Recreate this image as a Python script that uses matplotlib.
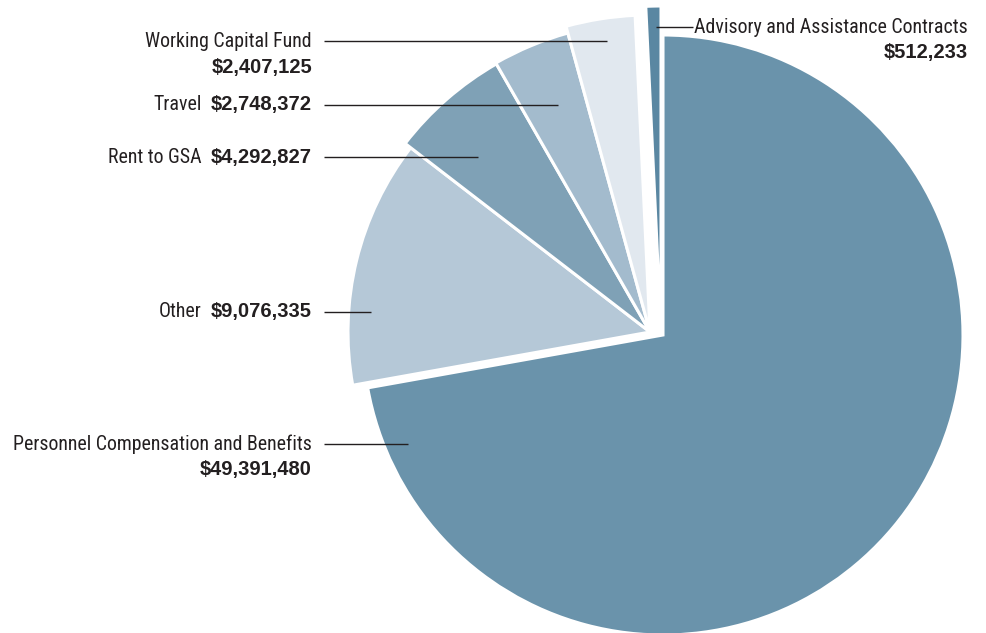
import matplotlib
matplotlib.use("Agg")
import matplotlib.pyplot as plt
from matplotlib import font_manager

categories = ["Personnel Compensation and Benefits", "Other", "Rent to GSA",
              "Travel", "Working Capital Fund", "Advisory and Assistance Contracts"]
amounts = [49391480, 9076335, 4292827, 2748372, 2407125, 512233]
colors = ["#6a93ab", "#b5c8d7", "#7fa1b6", "#a3bbcd", "#e1e8ef", "#5a87a2"]

W, H = 987, 633
INK = "#231f20"
BOLD = ["Liberation Sans", "DejaVu Sans"]

# pick a condensed face for the category names if one is around
installed = {(f.name, f.stretch) for f in font_manager.fontManager.ttflist}
names = {n for n, _ in installed}
if "Liberation Sans Narrow" in names:
    NARROW = dict(family=["Liberation Sans Narrow", "DejaVu Sans"])
elif "Roboto Condensed" in names:
    NARROW = dict(family=["Roboto Condensed", "DejaVu Sans"])
elif any(n == "DejaVu Sans" and s in ("condensed", 300, "semi-condensed")
         for n, s in installed):
    NARROW = dict(family=["DejaVu Sans"], stretch="condensed")
else:
    NARROW = dict(family=["Liberation Sans", "DejaVu Sans"])

fig = plt.figure(figsize=(W / 100, H / 100), dpi=100)
ax = fig.add_axes([0, 0, 1, 1])

# pie in pixel units (y measured up from the bottom)
cx, cy, r = 663, H - 335, 300
wedges, _ = ax.pie(amounts, colors=colors, startangle=90, counterclock=False,
                   radius=r, center=(cx, cy),
                   wedgeprops=dict(edgecolor="white", linewidth=2.2))

# the small categories are pulled out as a group, fanning slightly larger
pull = {1: ((-13, 3), 302), 2: ((-13, 3), 309), 3: ((-13, 3), 310),
        4: ((-13, 3), 317), 5: ((-2, 5), 324)}
for i, ((dx, dy), rr) in pull.items():
    wedges[i].set_center((cx + dx, cy + dy))
    wedges[i].set_radius(rr)

ax.set_xlim(0, W)
ax.set_ylim(0, H)
ax.set_aspect("equal")
ax.axis("off")

fig.canvas.draw()
renderer = fig.canvas.get_renderer()

# size the names so the longest one spans ~300 px
probe = ax.text(0, 0, categories[0], fontsize=15, **NARROW)
name_size = 15 * 300 / probe.get_window_extent(renderer).width
probe.remove()
name_size = min(name_size, 15.5)


def yy(y):
    return H - y


def fmt(v):
    return f"${v:,.0f}"


def value_text(x, y, v, ha="right"):
    return ax.text(x, yy(y), fmt(v), ha=ha, va="center", fontsize=14.5,
                   fontweight="bold", family=BOLD, color=INK)


def name_text(x, y, s, ha="right"):
    return ax.text(x, yy(y), s, ha=ha, va="center", fontsize=name_size,
                   color=INK, **NARROW)


def label_inline(name, value, y, x_right=312, gap=9):
    t = value_text(x_right, y, value)
    w = t.get_window_extent(renderer).width
    name_text(x_right - w - gap, y, name)


def leader(x0, x1, y):
    ax.plot([x0, x1], [yy(y), yy(y)], color=INK, lw=1.0, solid_capstyle="butt")


name_text(312, 41, categories[4])
value_text(312, 67, amounts[4])
leader(324, 607, 41)

label_inline(categories[3], amounts[3], 104)
leader(324, 558, 105)

label_inline(categories[2], amounts[2], 157)
leader(324, 478, 157)

label_inline(categories[1], amounts[1], 311)
leader(324, 371, 312)

name_text(312, 444, categories[0])
value_text(312, 469, amounts[0])
leader(324, 408, 444)

name_text(968, 27, categories[5])
value_text(968, 52, amounts[5])
leader(656, 693, 27)

fig.savefig("out.png", dpi=100)
